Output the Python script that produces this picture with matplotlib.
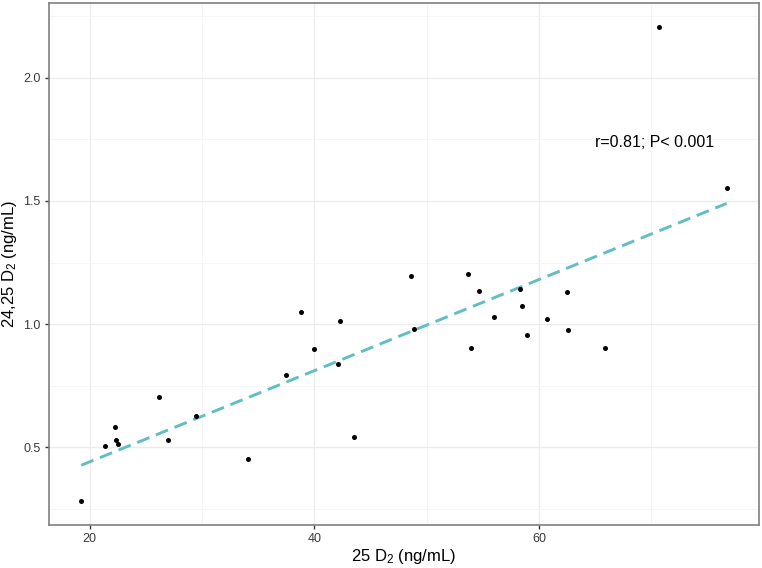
import matplotlib
matplotlib.use("Agg")
import matplotlib.pyplot as plt
import numpy as np

plt.rcParams["font.family"] = ["Liberation Sans", "DejaVu Sans"]
plt.rcParams["mathtext.fontset"] = "custom"
plt.rcParams["mathtext.rm"] = "Liberation Sans"
plt.rcParams["mathtext.it"] = "Liberation Sans:italic"

# ---------------------------------------------------------------------------
# Data
# ---------------------------------------------------------------------------
d2_25 = [19.26, 21.33, 22.25, 22.31, 22.49, 26.16, 27.02, 29.48, 34.07,
         37.45, 38.80, 39.97, 42.31, 42.13, 43.58, 48.65, 48.86, 53.66,
         53.96, 54.64, 55.97, 58.34, 58.46, 58.90, 60.71, 62.49, 62.55,
         65.84, 70.73, 76.71]
d2_2425 = [0.280, 0.505, 0.582, 0.527, 0.512, 0.705, 0.527, 0.626, 0.450,
           0.794, 1.047, 0.900, 1.013, 0.839, 0.541, 1.194, 0.979, 1.205,
           0.902, 1.136, 1.029, 1.141, 1.075, 0.955, 1.021, 1.132, 0.976,
           0.904, 2.208, 1.554]

annot_text = "r=0.81; P< 0.001"
annot_xy = (70.3, 1.737)

x = np.array(d2_25)
y = np.array(d2_2425)

# linear fit across the observed range
slope, intercept = np.polyfit(x, y, 1)
xs = np.array([x.min(), x.max()])

fig = plt.figure(figsize=(7.62, 5.68), dpi=100)
ax = fig.add_axes([0.0643, 0.0757, 0.9317, 0.919])

ax.plot(xs, slope * xs + intercept, ls=(0, (4.5, 2.4)), color="#62BEC1",
        lw=2.1, zorder=2)
ax.scatter(x, y, s=13, color="black", zorder=3, linewidths=0)

ax.text(annot_xy[0], annot_xy[1], annot_text, ha="center", va="center",
        fontsize=11.5, color="black")

# ggplot-like 5% expansion
xr = x.max() - x.min()
yr = y.max() - y.min()
ax.set_xlim(x.min() - 0.05 * xr, x.max() + 0.05 * xr)
ax.set_ylim(y.min() - 0.05 * yr, y.max() + 0.05 * yr)

ax.set_xticks([20, 40, 60])
ax.set_xticks([30, 50, 70], minor=True)
ax.set_yticks([0.5, 1.0, 1.5, 2.0])
ax.set_yticks([0.25, 0.75, 1.25, 1.75, 2.25], minor=True)
ax.set_yticklabels(["0.5", "1.0", "1.5", "2.0"])

ax.grid(which="major", color="#EBEBEB", lw=0.9)
ax.grid(which="minor", color="#F4F4F4", lw=0.6)
ax.set_axisbelow(True)

for sp in ax.spines.values():
    sp.set_color("#7F7F7F")
    sp.set_linewidth(1.2)

ax.tick_params(which="major", length=3, width=1.0, color="#333333",
               labelsize=9, labelcolor="#3A3A3A", pad=3)
ax.tick_params(which="minor", length=0)

ax.set_xlabel("25 D$_2$ (ng/mL)", fontsize=12, labelpad=1)
ax.set_ylabel("24,25 D$_2$ (ng/mL)", fontsize=12, labelpad=3)

fig.savefig("out.png", dpi=100)
plt.close(fig)
